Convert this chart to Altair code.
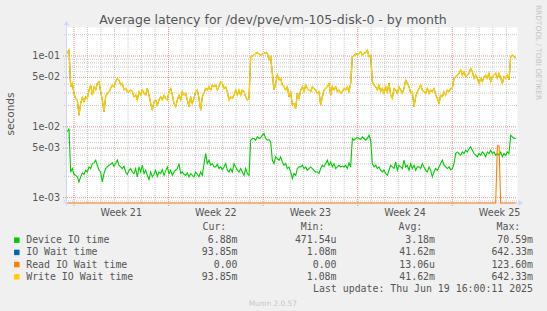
import altair as alt
import pandas as pd

# ---------------- data ----------------
# regular samples: day offset from Monday 00:00 of week 21
T0 = -0.4935
STEP = 0.12337

device_io_time = [
    0.00851, 0.00948, 0.00231, 0.00258, 0.00214, 0.00207, 0.00197, 0.00167, 0.00197, 0.00224,
    0.00214, 0.00244, 0.00231, 0.00272, 0.00258, 0.00303, 0.00310, 0.00338, 0.00287, 0.00244,
    0.00231, 0.00167, 0.00219, 0.00258, 0.00272, 0.00287, 0.00297, 0.00310, 0.00278, 0.00303,
    0.00338, 0.00287, 0.00272, 0.00258, 0.00278, 0.00231, 0.00214, 0.00244, 0.00258, 0.00231,
    0.00219, 0.00258, 0.00197, 0.00272, 0.00231, 0.00287, 0.00219, 0.00244, 0.00207, 0.00180,
    0.00231, 0.00197, 0.00214, 0.00244, 0.00201, 0.00231, 0.00219, 0.00249, 0.00207, 0.00239,
    0.00272, 0.00219, 0.00244, 0.00207, 0.00231, 0.00244, 0.00258, 0.00303, 0.00219, 0.00231,
    0.00214, 0.00207, 0.00224, 0.00197, 0.00219, 0.00207, 0.00197, 0.00231, 0.00214, 0.00197,
    0.00231, 0.00207, 0.00303, 0.00420, 0.00303, 0.00338, 0.00287, 0.00303, 0.00272, 0.00272,
    0.00297, 0.00258, 0.00272, 0.00249, 0.00272, 0.00303, 0.00244, 0.00231, 0.00258, 0.00231,
    0.00303, 0.00272, 0.00244, 0.00231, 0.00258, 0.00231, 0.00207, 0.00258, 0.00219, 0.00207,
    0.00648, 0.00685, 0.00685, 0.00648, 0.00723, 0.00685, 0.00708, 0.00763, 0.00806, 0.00685,
    0.00648, 0.00662, 0.00614, 0.00338, 0.00303, 0.00377, 0.00357, 0.00338, 0.00377, 0.00320,
    0.00287, 0.00303, 0.00258, 0.00272, 0.00231, 0.00186, 0.00219, 0.00207, 0.00258, 0.00272,
    0.00272, 0.00287, 0.00258, 0.00272, 0.00244, 0.00258, 0.00272, 0.00258, 0.00244, 0.00231,
    0.00231, 0.00219, 0.00258, 0.00287, 0.00272, 0.00303, 0.00338, 0.00287, 0.00320, 0.00272,
    0.00303, 0.00258, 0.00272, 0.00287, 0.00272, 0.00278, 0.00272, 0.00287, 0.00258, 0.00310,
    0.00272, 0.00685, 0.00648, 0.00685, 0.00708, 0.00685, 0.00662, 0.00723, 0.00685, 0.00648,
    0.00685, 0.00763, 0.00648, 0.00303, 0.00272, 0.00287, 0.00258, 0.00272, 0.00244, 0.00231,
    0.00244, 0.00219, 0.00207, 0.00244, 0.00287, 0.00272, 0.00258, 0.00320, 0.00244, 0.00287,
    0.00272, 0.00258, 0.00338, 0.00272, 0.00287, 0.00244, 0.00303, 0.00258, 0.00287, 0.00244,
    0.00272, 0.00272, 0.00258, 0.00303, 0.00272, 0.00244, 0.00231, 0.00272, 0.00244, 0.00197,
    0.00231, 0.00258, 0.00244, 0.00272, 0.00303, 0.00338, 0.00287, 0.00272, 0.00258, 0.00272,
    0.00249, 0.00258, 0.00303, 0.00420, 0.00443, 0.00420, 0.00398, 0.00443, 0.00420, 0.00468,
    0.00443, 0.00494, 0.00522, 0.00468, 0.00420, 0.00398, 0.00377, 0.00420, 0.00398, 0.00443,
    0.00420, 0.00377, 0.00443, 0.00420, 0.00468, 0.00420, 0.00443, 0.00398, 0.00420, 0.00398,
    0.00443, 0.00377, 0.00420, 0.00398, 0.00443, 0.00420, 0.00763, 0.00723, 0.00685, 0.00688,
]

write_io_wait_time = [
    0.1091, 0.1216, 0.0368, 0.0411, 0.0297, 0.0252, 0.0239, 0.0146, 0.0214, 0.0260,
    0.0226, 0.0266, 0.0252, 0.0331, 0.0389, 0.0281, 0.0368, 0.0331, 0.0411, 0.0434,
    0.0313, 0.0239, 0.0163, 0.0266, 0.0297, 0.0313, 0.0349, 0.0389, 0.0368, 0.0434,
    0.0483, 0.0458, 0.0389, 0.0411, 0.0331, 0.0349, 0.0313, 0.0313, 0.0331, 0.0313,
    0.0266, 0.0281, 0.0239, 0.0313, 0.0281, 0.0331, 0.0297, 0.0281, 0.0349, 0.0281,
    0.0214, 0.0172, 0.0226, 0.0239, 0.0203, 0.0239, 0.0266, 0.0239, 0.0281, 0.0252,
    0.0239, 0.0313, 0.0349, 0.0281, 0.0214, 0.0192, 0.0239, 0.0281, 0.0239, 0.0313,
    0.0281, 0.0297, 0.0239, 0.0192, 0.0266, 0.0214, 0.0252, 0.0313, 0.0331, 0.0252,
    0.0172, 0.0266, 0.0297, 0.0349, 0.0331, 0.0368, 0.0331, 0.0389, 0.0368, 0.0389,
    0.0331, 0.0368, 0.0434, 0.0411, 0.0349, 0.0368, 0.0313, 0.0239, 0.0266, 0.0252,
    0.0281, 0.0331, 0.0281, 0.0331, 0.0281, 0.0331, 0.0313, 0.0266, 0.0239, 0.0252,
    0.0978, 0.1000, 0.1033, 0.1091, 0.1115, 0.1067, 0.1033, 0.1067, 0.1091, 0.1115,
    0.1091, 0.0878, 0.0978, 0.0569, 0.0331, 0.0411, 0.0538, 0.0458, 0.0483, 0.0389,
    0.0368, 0.0331, 0.0368, 0.0266, 0.0313, 0.0203, 0.0214, 0.0182, 0.0297, 0.0252,
    0.0331, 0.0368, 0.0313, 0.0389, 0.0349, 0.0331, 0.0313, 0.0368, 0.0349, 0.0331,
    0.0297, 0.0313, 0.0203, 0.0266, 0.0331, 0.0349, 0.0368, 0.0411, 0.0281, 0.0368,
    0.0331, 0.0368, 0.0313, 0.0331, 0.0297, 0.0313, 0.0349, 0.0331, 0.0368, 0.0313,
    0.0411, 0.0978, 0.1000, 0.1091, 0.1033, 0.1091, 0.1152, 0.1033, 0.1091, 0.1115,
    0.1216, 0.0978, 0.1033, 0.0434, 0.0389, 0.0368, 0.0331, 0.0389, 0.0313, 0.0349,
    0.0297, 0.0368, 0.0313, 0.0411, 0.0281, 0.0252, 0.0349, 0.0331, 0.0297, 0.0368,
    0.0331, 0.0297, 0.0349, 0.0458, 0.0411, 0.0368, 0.0297, 0.0313, 0.0192, 0.0266,
    0.0313, 0.0349, 0.0389, 0.0331, 0.0313, 0.0297, 0.0349, 0.0297, 0.0331, 0.0313,
    0.0349, 0.0281, 0.0252, 0.0214, 0.0281, 0.0266, 0.0313, 0.0281, 0.0331, 0.0313,
    0.0349, 0.0349, 0.0483, 0.0510, 0.0538, 0.0569, 0.0634, 0.0538, 0.0600, 0.0510,
    0.0538, 0.0569, 0.0670, 0.0600, 0.0483, 0.0538, 0.0483, 0.0411, 0.0483, 0.0434,
    0.0510, 0.0538, 0.0483, 0.0569, 0.0434, 0.0510, 0.0538, 0.0569, 0.0483, 0.0569,
    0.0483, 0.0411, 0.0510, 0.0483, 0.0538, 0.0458, 0.0978, 0.1033, 0.0978, 0.0939,
]

# IO Wait time has the same values as Write IO Wait time (identical legend stats)
io_wait_time = list(write_io_wait_time)

# Read IO Wait time: zero except one short spike
read_io_wait_time = [0.0] * 258 + [0.0054, 0.0054] + [0.0] * 10

series_names = ["Device IO time", "IO Wait time", "Read IO Wait time", "Write IO Wait time"]
series_colors = ["#00CC00", "#0066B3", "#FF8000", "#FFCC00"]
cur_vals = ["6.88m", "93.85m", "0.00\u00a0", "93.85m"]
min_vals = ["471.54u", "1.08m", "0.00\u00a0", "1.08m"]
avg_vals = ["3.18m", "41.62m", "13.06u", "41.62m"]
max_vals = ["70.59m", "642.33m", "123.60m", "642.33m"]

week_label_days = [3.5, 10.5, 17.5, 24.5, 31.5]
week_labels = ["Week 21", "Week 22", "Week 23", "Week 24", "Week 25"]
x_major_days = [0, 7, 14, 21, 28]
x_minor_days = [1, 2, 3, 4, 5, 6, 8, 9, 10, 11, 12, 13, 15, 16, 17, 18, 19, 20,
                22, 23, 24, 25, 26, 27, 29, 30, 31, 32]
y_major = [0.001, 0.005, 0.01, 0.05, 0.1]
y_major_labels = ["1e-03", "5e-03", "1e-02", "5e-02", "1e-01"]
y_minor = [0.0009, 0.002, 0.003, 0.004, 0.006, 0.007, 0.008, 0.009,
           0.02, 0.03, 0.04, 0.06, 0.07, 0.08, 0.09, 0.2]

X_DOMAIN = [-0.592, 32.79]
Y_DOMAIN = [0.000842, 0.2566]
W, H = 451, 176

# ---------------- build ----------------
n = len(write_io_wait_time)
df = pd.DataFrame({
    "day": [T0 + STEP * i for i in range(n)],
    "device": device_io_time,
    "iowait": io_wait_time,
    "read": read_io_wait_time,
    "write": write_io_wait_time,
})

XS = alt.Scale(domain=X_DOMAIN, nice=False, zero=False)
YS = alt.Scale(type="log", domain=Y_DOMAIN, nice=False)

SANS = "DejaVu Sans"
MONO = "DejaVu Sans Mono"
FG = "#555555"

layers = []

# grid
layers.append(alt.Chart(pd.DataFrame({"v": y_minor})).mark_rule(
    color="#BBBBBB", strokeWidth=1, strokeDash=[1, 1], opacity=0.8).encode(
    y=alt.Y("v:Q", scale=YS, axis=None), x=alt.value(-2), x2=alt.value(W)))
layers.append(alt.Chart(pd.DataFrame({"d": x_minor_days})).mark_rule(
    color="#BBBBBB", strokeWidth=1, strokeDash=[1, 1], opacity=0.8).encode(
    x=alt.X("d:Q", scale=XS, axis=None), y=alt.value(0), y2=alt.value(H + 2)))
layers.append(alt.Chart(pd.DataFrame({"v": y_major})).mark_rule(
    color="#E07070", strokeWidth=1, strokeDash=[1, 1], opacity=0.75).encode(
    y=alt.Y("v:Q", scale=YS, axis=None), x=alt.value(-3), x2=alt.value(W)))
layers.append(alt.Chart(pd.DataFrame({"d": x_major_days})).mark_rule(
    color="#E07070", strokeWidth=1, strokeDash=[1, 1], opacity=0.75).encode(
    x=alt.X("d:Q", scale=XS, axis=None), y=alt.value(0), y2=alt.value(H + 3)))

# axes lines + arrows
AX = "#CFD6F8"
layers.append(alt.Chart(pd.DataFrame({"a": [0]})).mark_rule(color=AX, strokeWidth=1).encode(
    x=alt.value(0.5), y=alt.value(-3), y2=alt.value(H + 3)))
layers.append(alt.Chart(pd.DataFrame({"a": [0]})).mark_rule(color=AX, strokeWidth=1).encode(
    x=alt.value(-3), x2=alt.value(W + 3), y=alt.value(H)))
layers.append(alt.Chart(pd.DataFrame({"a": [0]})).mark_point(
    shape="triangle-up", filled=True, color=AX, size=30, opacity=1).encode(
    x=alt.value(0.5), y=alt.value(-4)))
layers.append(alt.Chart(pd.DataFrame({"a": [0]})).mark_point(
    shape="triangle-right", filled=True, color=AX, size=30, opacity=1).encode(
    x=alt.value(W + 4), y=alt.value(H)))

# data lines
base = alt.Chart(df)
X = alt.X("day:Q", scale=XS, axis=None)
layers.append(base.mark_line(color=series_colors[0], strokeWidth=1.1).encode(
    x=X, y=alt.Y("device:Q", scale=YS, axis=None)))
layers.append(base.mark_line(color=series_colors[1], strokeWidth=1.0).encode(
    x=X, y=alt.Y("iowait:Q", scale=YS, axis=None)))
layers.append(base.transform_calculate(rc=f"max(datum.read, {Y_DOMAIN[0]})").mark_line(
    color=series_colors[2], strokeWidth=1.1).encode(
    x=X, y=alt.Y("rc:Q", scale=YS, axis=None)))
layers.append(base.mark_line(color=series_colors[3], strokeWidth=1.4).encode(
    x=X, y=alt.Y("write:Q", scale=YS, axis=None)))

# tick labels
layers.append(alt.Chart(pd.DataFrame({"v": y_major, "t": y_major_labels})).mark_text(
    align="right", baseline="middle", font=SANS, fontSize=9.6, color=FG).encode(
    y=alt.Y("v:Q", scale=YS, axis=None), x=alt.value(-6), text="t:N"))
layers.append(alt.Chart(pd.DataFrame({"d": week_label_days, "t": week_labels})).mark_text(
    align="center", baseline="middle", font=SANS, fontSize=9.6, color=FG).encode(
    x=alt.X("d:Q", scale=XS, axis=None), y=alt.value(186), text="t:N"))


def txt(s, x, y, align="left", font=MONO, size=9.9, color=FG, angle=0, baseline="middle"):
    kw = dict(align=align, baseline=baseline, font=font, fontSize=size, color=color)
    if angle:
        kw["angle"] = angle
    return alt.Chart(pd.DataFrame({"t": [s]})).mark_text(**kw).encode(
        x=alt.value(x), y=alt.value(y), text="t:N")


OX, OY = 66, 27
layers.append(txt("Average latency for /dev/pve/vm-105-disk-0 - by month",
                  273 - OX, 23.5 - OY, align="center", font=SANS, size=12.5,
                  baseline="alphabetic"))
layers.append(txt("seconds", 11 - OX, 114 - OY, align="center", font=SANS, size=10.5, angle=270))
layers.append(txt("RRDTOOL / TOBI OETIKER", 538.3 - OX, 52.5 - OY, align="center",
                  font=SANS, size=7.4, color="#C4C4C4", angle=90))

# legend
header_y = 227.2 - OY
for label, xl in [("Cur:", 202.5), ("Min:", 300.7), ("Avg:", 398.5), ("Max:", 496.5)]:
    layers.append(txt(label, xl - OX, header_y))

row_y = [240.2, 252.4, 264.6, 276.8]
for i, name in enumerate(series_names):
    yy = row_y[i] - OY
    layers.append(alt.Chart(pd.DataFrame({"a": [0]})).mark_square(
        color=series_colors[i], size=30, opacity=1).encode(
        x=alt.value(16.8 - OX), y=alt.value(yy)))
    layers.append(txt(name, 26.2 - OX, yy))
    for vals, xr in [(cur_vals, 237.5), (min_vals, 336.5), (avg_vals, 435.0), (max_vals, 533.0)]:
        layers.append(txt(vals[i], xr - OX, yy, align="right"))

layers.append(txt("Last update: Thu Jun 19 16:00:11 2025", 533.0 - OX, 288.6 - OY, align="right"))
layers.append(txt("Munin 2.0.57", 272.8 - OX, 303.8 - OY, align="center", font=SANS,
                  size=7.4, color="#C8C8C8"))

chart = alt.layer(*layers).properties(
    width=W, height=H,
    autosize=alt.AutoSizeParams(type="none"),
    padding={"left": OX, "top": OY, "right": 547 - OX - W, "bottom": 311 - OY - H},
    background="#F0F0F0",
).configure_view(fill="white", stroke="transparent")

chart.save("out.html", embed_options={"renderer": "svg", "actions": False})
